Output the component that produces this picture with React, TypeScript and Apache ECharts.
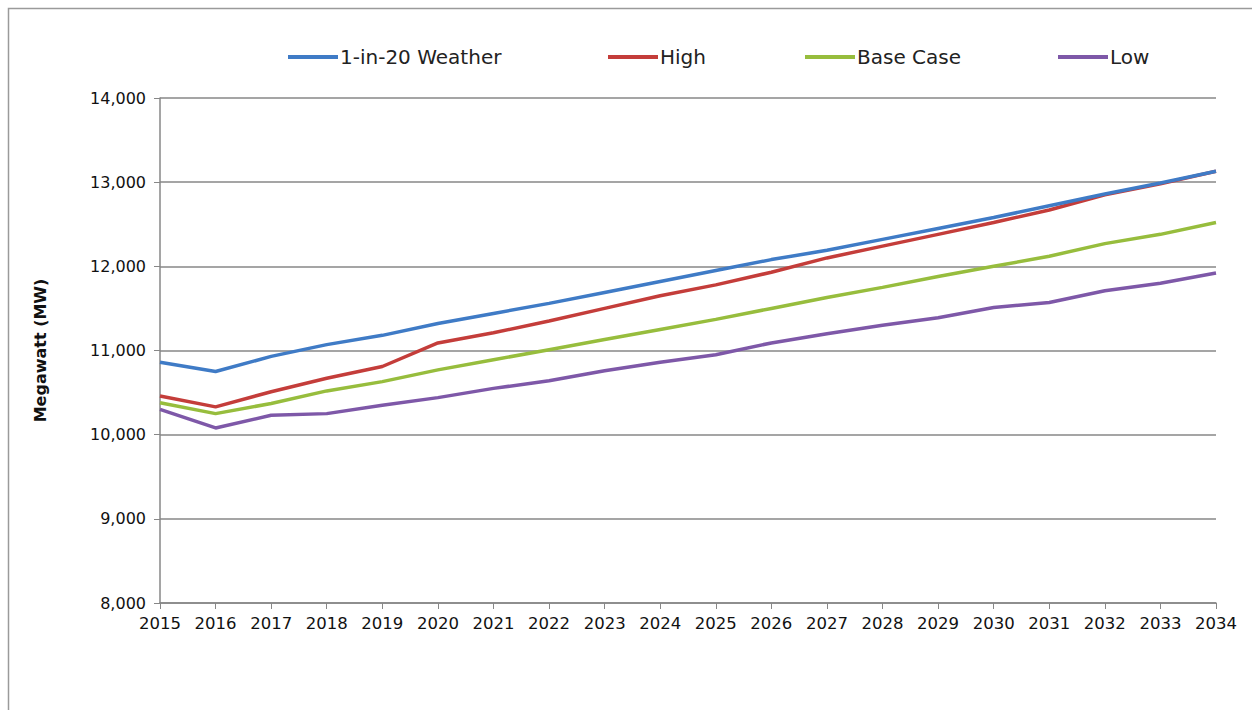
import React, { useEffect, useRef } from "react";
import * as echarts from "echarts";

const years = ["2015","2016","2017","2018","2019","2020","2021","2022","2023","2024","2025","2026","2027","2028","2029","2030","2031","2032","2033","2034"];
const weather1in20 = [10860,10750,10930,11070,11180,11320,11440,11560,11690,11820,11950,12080,12190,12320,12450,12580,12720,12860,12990,13130];
const high = [10460,10330,10510,10670,10810,11090,11210,11350,11500,11650,11780,11930,12100,12240,12380,12520,12670,12850,12980,13130];
const baseCase = [10380,10250,10370,10520,10630,10770,10890,11010,11130,11250,11370,11500,11630,11750,11880,12000,12120,12270,12380,12520];
const low = [10300,10080,10230,10250,10350,10440,10550,10640,10760,10860,10950,11090,11200,11300,11390,11510,11570,11710,11800,11920];

const seriesNames = ["1-in-20 Weather", "High", "Base Case", "Low"];
const seriesData = [weather1in20, high, baseCase, low];
const colors = ["#3f7bc6", "#c43d3a", "#97bd3d", "#7e58a8"];
const legendLefts = [283, 603, 800, 1053];

const FONT = "'DejaVu Sans', sans-serif";

export default function App() {
  const ref = useRef<HTMLDivElement>(null);
  useEffect(() => {
    if (!ref.current) return;
    const chart = echarts.init(ref.current, null, { renderer: "svg" });
    chart.setOption({
      animation: false,
      backgroundColor: "#ffffff",
      textStyle: { fontFamily: FONT },
      graphic: [
        {
          type: "rect",
          shape: { x: 8.5, y: 8.5, width: 1260, height: 720 },
          style: { fill: "none", stroke: "#9a9a9a", lineWidth: 1.5 },
          silent: true,
        },
      ],
      legend: seriesNames.map((n, i) => ({
        data: [n],
        left: legendLefts[i],
        top: 42,
        itemWidth: 50,
        itemHeight: 4,
        itemGap: 4,
        icon: "rect",
        textStyle: { fontSize: 20, color: "#222", fontFamily: FONT, padding: [0, 0, 0, -3] },
      })),
      grid: { left: 160, right: 36, top: 98, bottom: 107 },
      xAxis: {
        type: "category",
        data: years,
        boundaryGap: false,
        axisLine: { lineStyle: { color: "#878787", width: 1.5 } },
        axisTick: { show: true, length: 6, alignWithLabel: true, lineStyle: { color: "#878787" } },
        axisLabel: { fontSize: 16.5, color: "#111", margin: 12, interval: 0, fontFamily: FONT },
        splitLine: { show: false },
      },
      yAxis: {
        type: "value",
        min: 8000,
        max: 14000,
        interval: 1000,
        name: "Megawatt (MW)",
        nameLocation: "middle",
        nameGap: 112,
        nameTextStyle: { fontSize: 16, fontWeight: "bold", color: "#111", fontFamily: FONT },
        axisLine: { show: true, lineStyle: { color: "#878787", width: 1.5 } },
        axisTick: { show: true, length: 6, lineStyle: { color: "#878787" } },
        axisLabel: {
          fontSize: 16,
          color: "#111",
          margin: 14,
          fontFamily: FONT,
          formatter: (v: number) => v.toLocaleString("en-US"),
        },
        splitLine: { lineStyle: { color: "#878787", width: 1.5 } },
      },
      series: seriesNames.map((n, i) => ({
        name: n,
        type: "line",
        data: seriesData[i],
        symbol: "none",
        lineStyle: { color: colors[i], width: 3.5 },
        itemStyle: { color: colors[i] },
        z: 10 - i,
      })),
    });
    return () => chart.dispose();
  }, []);
  return (
    <div
      ref={ref}
      style={{ position: "fixed", left: 0, top: 0, width: 1252, height: 710 }}
    />
  );
}
